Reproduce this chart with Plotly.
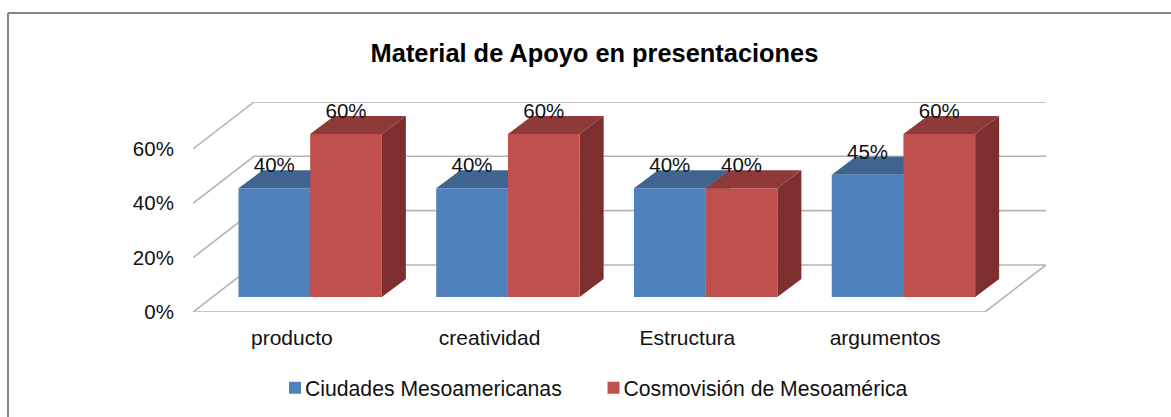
import plotly.graph_objects as go

categories = ["producto", "creatividad", "Estructura", "argumentos"]
series_a_name = "Ciudades Mesoamericanas"
series_b_name = "Cosmovisión de Mesoamérica"
series_a = [40, 40, 40, 45]
series_b = [60, 60, 40, 60]
y_ticks = [0, 20, 40, 60]

W, H = 1171, 417
L, R, T, B = 193, 1046, 102, 312
PX_X = 197.75                     # pixels per category
X0 = -0.5
X1 = X0 + (R - L) / PX_X
Y1 = 77.28
PX_Y = (B - T) / Y1               # pixels per percent unit

FLOOR_DX, FLOOR_DY = 61 / PX_X, 47 / PX_Y
BAR_DX, BAR_BASE = 18.3 / PX_X, 15 / PX_Y
DEPTH_DX, DEPTH_DY = 24 / PX_X, 18 / PX_Y
BAR_W = 71.7 / PX_X

GRID = "#b4b4b4"
FRAME = "#868686"
TXT = "#111111"
FONT = "Liberation Sans, Arial, sans-serif"
BLUE, BLUE_TOP, BLUE_SIDE = "#4f81bd", "#3e648f", "#335378"
RED, RED_TOP, RED_SIDE = "#c0504d", "#8d3a38", "#7c2f2e"

fig = go.Figure()

# walls and gridlines, on the main axes (below everything)
xs_floor = [X0, X0 + FLOOR_DX, X1, X1 - FLOOR_DX, X0]
ys_floor = [0, FLOOR_DY, FLOOR_DY, 0, 0]
fig.add_trace(go.Scatter(x=xs_floor, y=ys_floor, mode="lines", showlegend=False, hoverinfo="skip",
                         cliponaxis=False, line=dict(color=GRID, width=1.6)))
for t in y_ticks[1:]:
    fig.add_trace(go.Scatter(x=[X0, X0 + FLOOR_DX, X1], y=[t, t + FLOOR_DY, t + FLOOR_DY],
                             mode="lines", showlegend=False, hoverinfo="skip", cliponaxis=False,
                             line=dict(color=GRID, width=1.6)))


def faces(values, offset, top_color, side_color):
    for i, v in enumerate(values):
        xl = i + BAR_DX + offset - BAR_W / 2
        xr = xl + BAR_W
        y0, y1 = BAR_BASE, BAR_BASE + v
        fig.add_trace(go.Scatter(
            x=[xr, xr + DEPTH_DX, xr + DEPTH_DX, xr, xr],
            y=[y0, y0 + DEPTH_DY, y1 + DEPTH_DY, y1, y0],
            mode="lines", fill="toself", fillcolor=side_color, line=dict(width=0),
            showlegend=False, hoverinfo="skip", cliponaxis=False))
        fig.add_trace(go.Scatter(
            x=[xl, xl + DEPTH_DX, xr + DEPTH_DX, xr, xl],
            y=[y1, y1 + DEPTH_DY, y1 + DEPTH_DY, y1, y1],
            mode="lines", fill="toself", fillcolor=top_color, line=dict(width=0),
            showlegend=False, hoverinfo="skip", cliponaxis=False))


faces(series_a, -BAR_W / 2, BLUE_TOP, BLUE_SIDE)
faces(series_b, BAR_W / 2, RED_TOP, RED_SIDE)

# front faces and value labels, on an overlaid pair of matching axes
idx = list(range(len(categories)))
shifted = [i + BAR_DX for i in idx]
for name, vals, col, off in [(series_a_name, series_a, BLUE, -BAR_W / 2),
                             (series_b_name, series_b, RED, BAR_W / 2)]:
    fig.add_trace(go.Bar(x=[s + off for s in shifted], y=vals, base=BAR_BASE, width=BAR_W, name=name,
                         marker=dict(color=col, line=dict(width=0)),
                         xaxis="x2", yaxis="y2", hovertemplate="%{y}%<extra>" + name + "</extra>"))
for vals, off in [(series_a, -BAR_W / 2), (series_b, BAR_W / 2)]:
    fig.add_trace(go.Scatter(x=[s + off for s in shifted], y=[BAR_BASE + v + 21 / PX_Y for v in vals],
                             text=[f"{v}%" for v in vals], mode="text", textposition="middle center",
                             textfont=dict(family=FONT, size=20.5, color=TXT),
                             xaxis="x2", yaxis="y2", showlegend=False, hoverinfo="skip", cliponaxis=False))

px = lambda p: (p - L) / (R - L)
py = lambda p: (B - p) / (B - T)
frame = dict(color=FRAME, width=2)

fig.update_layout(
    width=W, height=H, margin=dict(l=L, r=W - R, t=T, b=H - B, pad=0),
    paper_bgcolor="white", plot_bgcolor="rgba(0,0,0,0)",
    font=dict(family=FONT, size=21, color=TXT),
    title=dict(text="<b>Material de Apoyo en presentaciones</b>", xref="container", yref="container",
               x=594.5 / W, y=1 - 53 / H, xanchor="center", yanchor="middle",
               font=dict(family=FONT, size=25.4, color="#000000")),
    xaxis=dict(range=[X0, X1], tickmode="array", tickvals=idx, ticktext=categories, showgrid=False,
               zeroline=False, ticks="outside", ticklen=7, tickcolor="rgba(0,0,0,0)", showline=False,
               tickfont=dict(family=FONT, size=21, color=TXT), fixedrange=True),
    yaxis=dict(range=[0, Y1], tickmode="array", tickvals=y_ticks, ticktext=[f"{t}%" for t in y_ticks],
               showgrid=False, zeroline=False, ticks="outside", ticklen=14, tickcolor="rgba(0,0,0,0)",
               showline=False, tickfont=dict(family=FONT, size=20.5, color=TXT), fixedrange=True),
    xaxis2=dict(range=[X0, X1], overlaying="x", visible=False, fixedrange=True),
    yaxis2=dict(range=[0, Y1], overlaying="y", visible=False, fixedrange=True),
    legend=dict(orientation="h", xref="container", yref="container", x=265 / W, y=1 - 388 / H,
                xanchor="left", yanchor="middle", font=dict(family=FONT, size=21.2, color=TXT),
                entrywidth=273.5, entrywidthmode="pixels",
                bgcolor="rgba(0,0,0,0)", itemclick=False, itemdoubleclick=False),
    shapes=[
        dict(type="line", xref="paper", yref="paper", x0=px(8), x1=px(W), y0=py(13), y1=py(13), line=frame, layer="below"),
        dict(type="line", xref="paper", yref="paper", x0=px(8), x1=px(8), y0=py(13), y1=py(H), line=frame, layer="below"),
    ],
)

fig.write_html("out.html", config={"displayModeBar": False},
               post_script="document.body.style.margin='0';document.documentElement.style.overflow='hidden';"
                           "document.querySelectorAll('.legendsymbols').forEach(function(e){e.setAttribute('transform','translate(10,0)');});"
                           "document.querySelectorAll('.legend [clip-path], .legend[clip-path]').forEach(function(e){e.removeAttribute('clip-path');e.style.clipPath='none';});")
